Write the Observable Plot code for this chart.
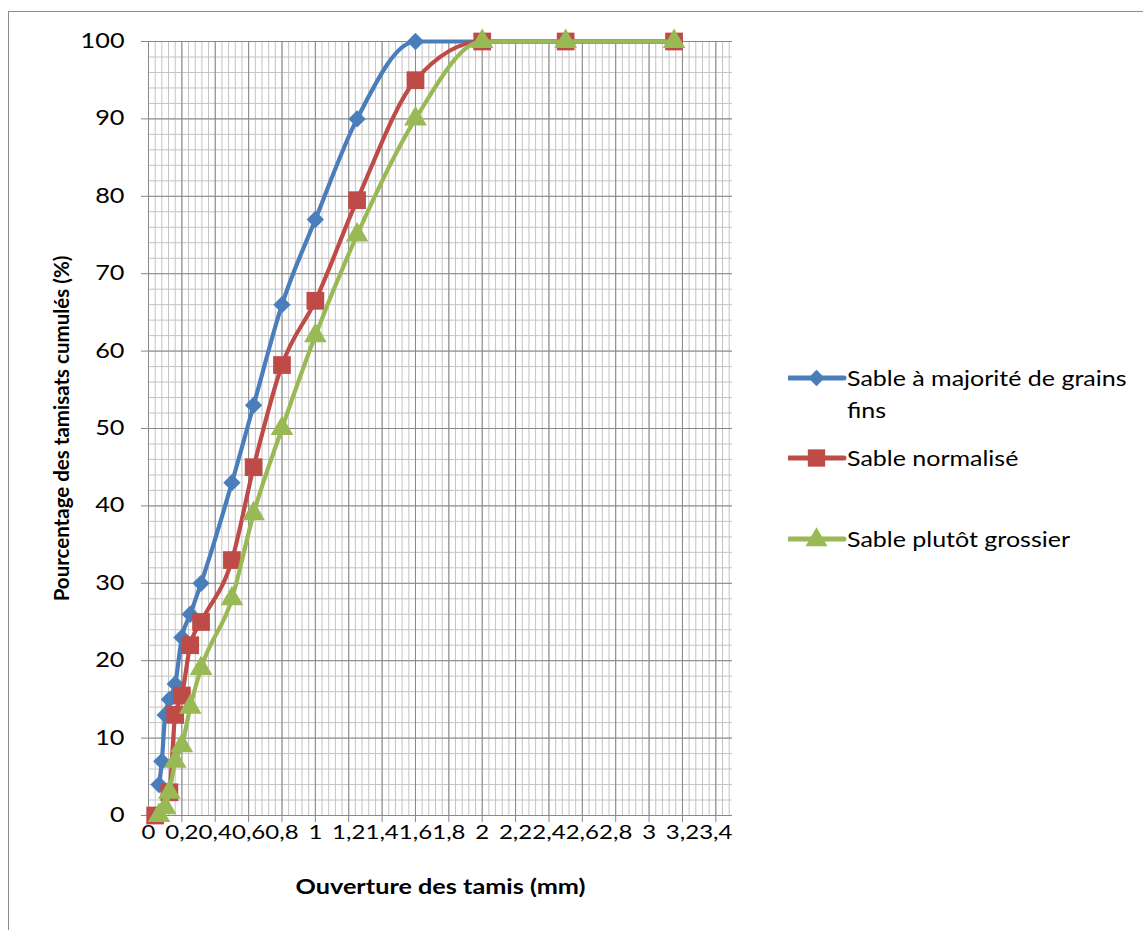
<!DOCTYPE html>
<html>
<head>
<meta charset="utf-8">
<script src="https://cdn.jsdelivr.net/npm/d3@7"></script>
<script src="https://cdn.jsdelivr.net/npm/@observablehq/plot@0.6"></script>
<style>
  html, body { margin: 0; padding: 0; background: #fff; }
  #wrap { position: relative; width: 1143px; height: 930px; overflow: hidden; font-family: Lato, "Open Sans", sans-serif; }
  #frame { position: absolute; left: 8px; top: 11px; width: 1300px; height: 1100px; border-left: 1px solid #8c8c8c; border-top: 1px solid #8c8c8c; }
  #chart { position: absolute; left: 0; top: 0; }
  .item { position: absolute; left: 788px; display: flex; align-items: flex-start; }
  .item svg { flex: none; }
  .lbl { font-size: 21px; line-height: 32px; color: #000; white-space: nowrap; transform: scaleX(1.19); transform-origin: 0 0; }
</style>
</head>
<body>
<div id="wrap">
  <div id="frame"></div>
  <div id="chart"></div>
  <div id="legend"></div>
</div>
<script>
// ---- Data ----
const seriesNames = ["Sable à majorité de grains fins", "Sable normalisé", "Sable plutôt grossier"];
const legendLines = [["Sable à majorité de grains", "fins"], ["Sable normalisé"], ["Sable plutôt grossier"]];
const colors = ["#4A7EBB", "#BE4B48", "#98B954"];
const symbols = ["diamond2", "square", "triangle"];

const finsX = [0.063, 0.08, 0.1, 0.125, 0.16, 0.2, 0.25, 0.315, 0.5, 0.63, 0.8, 1, 1.25, 1.6, 2, 2.5, 3.15];
const finsY = [4, 7, 13, 15, 17, 23, 26, 30, 43, 53, 66, 77, 90, 100, 100, 100, 100];

const normX = [0.04, 0.125, 0.16, 0.2, 0.25, 0.315, 0.5, 0.63, 0.8, 1, 1.25, 1.6, 2, 2.5, 3.15];
const normY = [0, 3, 13, 15.5, 22, 25, 33, 45, 58.2, 66.5, 79.5, 95, 100, 100, 100];

const grosX = [0.063, 0.1, 0.125, 0.16, 0.2, 0.25, 0.315, 0.5, 0.63, 0.8, 1, 1.25, 1.6, 2, 2.5, 3.15];
const grosY = [0, 1, 3, 7, 9, 14, 19, 28, 39, 50, 62, 75, 90, 100, 100, 100];

const xTicks = [0, 0.2, 0.4, 0.6, 0.8, 1, 1.2, 1.4, 1.6, 1.8, 2, 2.2, 2.4, 2.6, 2.8, 3, 3.2, 3.4];
const yTicks = [0, 10, 20, 30, 40, 50, 60, 70, 80, 90, 100];
const xTitle = "Ouverture des tamis (mm)";
const yTitle = "Pourcentage des tamisats cumulés (%)";

// gridlines
const xMinor = d3.range(0, 88).map(i => +(i * 0.04).toFixed(2));
const yMinor = d3.range(0, 51).map(i => i * 2);

const allX = [finsX, normX, grosX];
const allY = [finsY, normY, grosY];
const tables = allX.map((xs, s) => xs.map((x, i) => ({x, y: allY[s][i], series: seriesNames[s]})));

const fmt = d => String(+d.toFixed(1)).replace(".", ",");
const markerR = [7.8, 10, 8.4];

const seriesMarks = tables.flatMap((t, s) => [
  Plot.line(t, {x: "x", y: "y", stroke: colors[s], strokeWidth: 4.2, curve: "monotone-x"}),
  Plot.dot(t, {x: "x", y: "y", fill: colors[s], symbol: () => symbols[s], r: markerR[s], stroke: "none"})
]);

const chart = Plot.plot({
  width: 745,
  height: 910,
  marginLeft: 148,
  marginRight: 13,
  marginTop: 41,
  marginBottom: 95,
  style: {fontFamily: "Lato, 'Open Sans', sans-serif", color: "#000", background: "transparent", overflow: "visible"},
  x: {domain: [0, 3.5]},
  y: {domain: [0, 100]},
  marks: [
    Plot.ruleX(xMinor, {stroke: "#c4c4c4", strokeWidth: 1}),
    Plot.ruleY(yMinor, {stroke: "#c4c4c4", strokeWidth: 1}),
    Plot.ruleX(xTicks, {stroke: "#888888", strokeWidth: 1}),
    Plot.ruleY(yTicks, {stroke: "#888888", strokeWidth: 1}),
    Plot.axisX({ticks: xTicks, tickFormat: fmt, tickSize: 7, tickPadding: 3, fontSize: 19.5, label: null, stroke: "#888888", color: "#000"}),
    Plot.axisY({ticks: yTicks, tickSize: 7, tickPadding: 17, fontSize: 20.5, label: null, stroke: "#888888", color: "#000"}),
    ...seriesMarks,
    Plot.text([yTitle], {frameAnchor: "left", rotate: -90, dx: -86, textAnchor: "middle", fontWeight: "bold", fontSize: 20.5, fill: "#000"}),
    Plot.text([xTitle], {frameAnchor: "bottom", dy: 78, textAnchor: "middle", fontWeight: "bold", fontSize: 20.5, fill: "#000"})
  ]
});
document.getElementById("chart").appendChild(chart);

// horizontal stretch of glyphs (the reference is widened horizontally)
chart.querySelectorAll("text").forEach(t => {
  if (t.textContent === yTitle) return;
  const len = t.getComputedTextLength();
  if (len > 0) {
    t.setAttribute("textLength", (len * 1.23).toFixed(1));
    t.setAttribute("lengthAdjust", "spacingAndGlyphs");
  }
});

// ---- Legend ----
const legendTops = [362, 442, 523];
const symPath = [
  d3.symbol(d3.symbolDiamond2, 170)(),
  d3.symbol(d3.symbolSquare, 300)(),
  d3.symbol(d3.symbolTriangle, 210)()
];
const legend = document.getElementById("legend");
legendLines.forEach((lines, i) => {
  const item = document.createElement("div");
  item.className = "item";
  item.style.top = legendTops[i] + "px";
  item.innerHTML = `<svg width="59" height="32"><line x1="1" y1="16" x2="56" y2="16" stroke="${colors[i]}" stroke-width="5" stroke-linecap="round"/><path d="${symPath[i]}" transform="translate(28.5,${i === 2 ? 17 : 16})" fill="${colors[i]}"/></svg><div class="lbl">${lines.join("<br>")}</div>`;
  legend.appendChild(item);
});
</script>
</body>
</html>
